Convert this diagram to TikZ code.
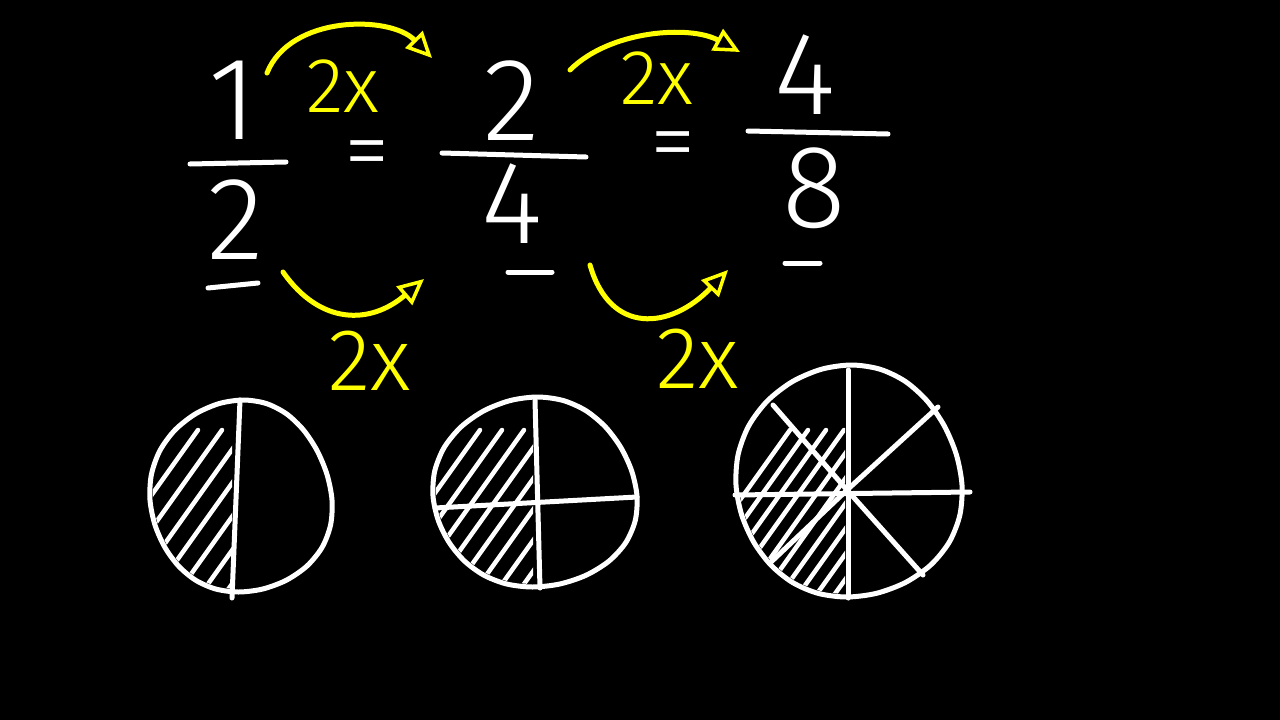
\documentclass[tikz,border=0pt]{standalone}
\usepackage{fontspec}
\usetikzlibrary{arrows.meta}
\IfFontExistsTF{Fira Sans Light}{\newfontfamily\hand{Fira Sans Light}}{%
  \IfFontExistsTF{Poppins Light}{\newfontfamily\hand{Poppins Light}}{%
    \newfontfamily\hand{Fira Sans}}}
\definecolor{hl}{RGB}{255,255,0}
\tikzset{
  num/.style={text=white,font=\hand\fontsize{118}{118}\selectfont,inner sep=0pt},
  eqs/.style={text=white,font=\hand\fontsize{92}{92}\selectfont,inner sep=0pt,anchor=base},
  mul/.style={text=hl,font=\hand\fontsize{78}{78}\selectfont,inner sep=0pt},
  bigmul/.style={mul,font=\hand\fontsize{88}{88}\selectfont},
  chalk/.style={draw=white,line width=5pt,line cap=round,line join=round},
  ychalk/.style={draw=hl,line width=5pt,line cap=round,line join=round},
  arr/.style={ychalk,-{Triangle[open,length=26pt,width=24pt,line width=3.5pt]}},
  hatch/.style={draw=white,line width=4.5pt,line cap=round},
}
% hand-drawn circle: centre x, centre y, x radius, y radius
\newcommand\roughpath[4]{plot[smooth cycle,domain=0:345,samples=24]
  ({#1+#3*cos(\x)+2.5*sin(3*\x)},{#2+#4*sin(\x)+2*cos(2*\x)})}
\begin{document}
\begin{tikzpicture}[x=1pt,y=-1pt]
\fill[black] (0,0) rectangle (1280,720);
\useasboundingbox (0,0) rectangle (1280,720);

% fractions
\node[num] (n1) at (233,100) {1};
\node[num] (d1) at (236,220) {2};
\node[num] (n2) at (512,101) {2};
\node[num] (d2) at (512,204) {4};
\node[num] (n3) at (805,75) {4};
\node[num] (d3) at (814,188) {8};
\draw[chalk] (190,164) -- (286,162);
\draw[chalk] (442,153) -- (586,157);
\draw[chalk] (748,131) -- (888,134);
\draw[chalk] (208,288) -- (258,283);
\draw[chalk] (508,272) -- (552,272);
\draw[chalk] (785,263) -- (820,263);
\node[eqs] (e1) at (367,181) {=};
\node[eqs] (e2) at (673,172) {=};

% multipliers
\node[mul] (m1) at (343,86) {2x};
\node[mul] (m2) at (657,78) {2x};
\node[bigmul] (m3) at (370,361) {2x};
\node[bigmul] (m4) at (698,359) {2x};

\coordinate (a1s) at (267,73);  \coordinate (a1e) at (432,58);
\coordinate (a2s) at (570,70);  \coordinate (a2e) at (740,52);
\coordinate (b1s) at (283,272); \coordinate (b1e) at (424,279);
\coordinate (b2s) at (590,265); \coordinate (b2e) at (728,270);
\draw[arr] (a1s) .. controls (290,15) and (390,15) .. (a1e);
\draw[arr] (a2s) .. controls (610,30) and (690,25) .. (a2e);
\draw[arr] (b1s) .. controls (320,325) and (370,325) .. (b1e);
\draw[arr] (b2s) .. controls (610,335) and (670,330) .. (b2e);

% circle 1
\begin{scope}
  \clip \roughpath{241}{498}{88}{93};
  \clip (140,390) rectangle (232,610);
  \foreach \x in {48,72,...,260} \draw[hatch] (\x,640) -- ++(150,-210);
\end{scope}
\draw[chalk] \roughpath{241}{498}{91}{96};
\draw[chalk] (240,400) -- (232,598);

% circle 2
\begin{scope}
  \clip \roughpath{535}{494}{99}{92};
  \clip (420,390) rectangle (533,610);
  \foreach \x in {330,352,...,560} \draw[hatch] (\x,640) -- ++(150,-210);
\end{scope}
\draw[chalk] \roughpath{535}{494}{102}{95};
\draw[chalk] (535,400) -- (540,588);
\draw[chalk] (435,508) -- (637,497);

% circle 3
\begin{scope}
  \clip \roughpath{849}{483}{110}{113};
  \clip (720,355) rectangle (845,610);
  \foreach \x in {640,658,...,880} \draw[hatch] (\x,640) -- ++(150,-210);
\end{scope}
\draw[chalk] \roughpath{849}{483}{113}{116};
\coordinate (c3) at (847,490);
\draw[chalk] (848,370) -- (848,598);
\draw[chalk] (735,495) -- (970,492);
\draw[chalk] (773,405) -- (c3) -- (923,575);
\draw[chalk] (938,407) -- (c3) -- (770,563);
\end{tikzpicture}
\end{document}
